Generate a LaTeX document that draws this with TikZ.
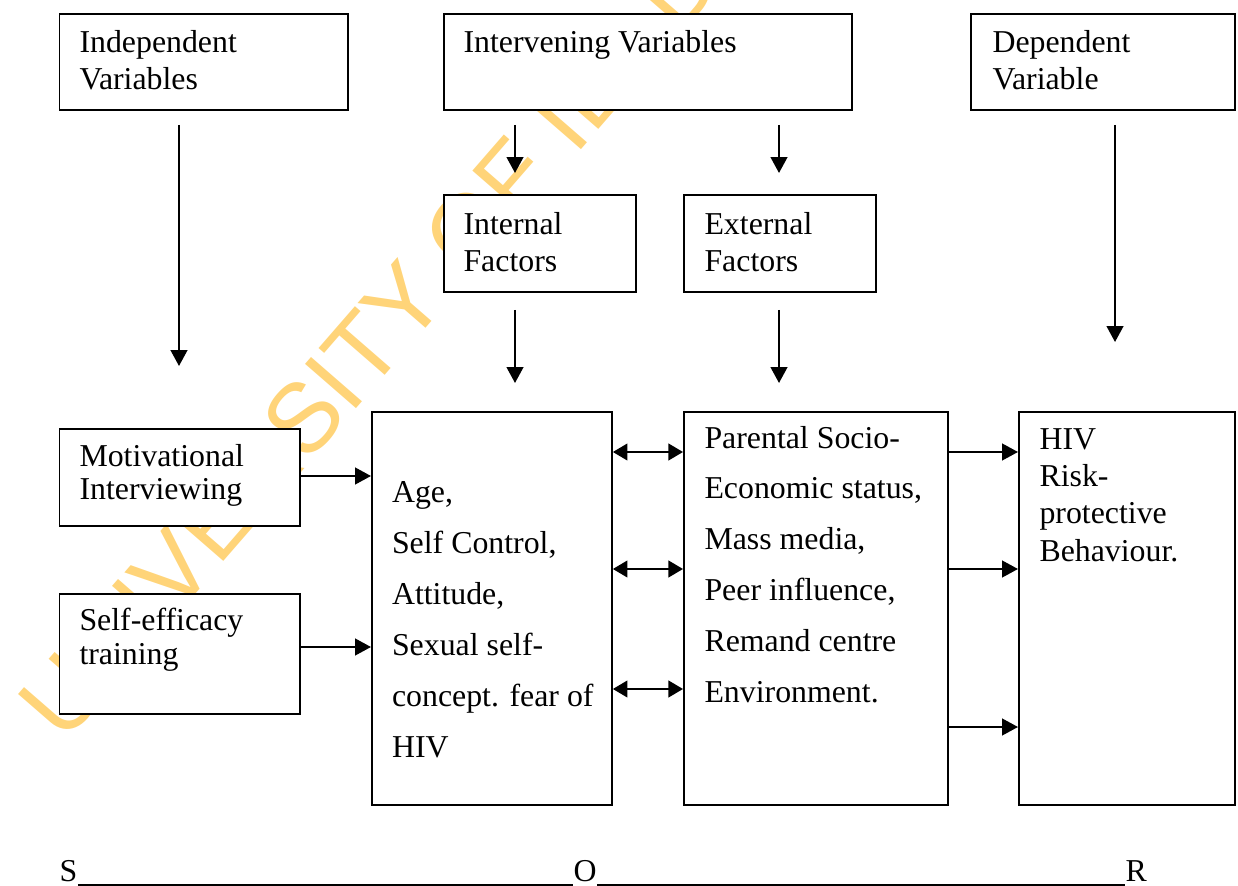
\documentclass[tikz,border=0pt]{standalone}
\usepackage{fontspec}
\setmainfont{Liberation Serif}
\newfontfamily\wmfont{Liberation Sans}
\usetikzlibrary{arrows.meta}

\definecolor{wmyellow}{RGB}{255,212,121}
\def\px{0.377pt}

\tikzset{
	box/.style 2 args={draw, fill=white, line width=0.7pt, anchor=north west, inner sep=0pt,
		minimum width=#1*\px, minimum height=#2*\px},
	txt/.style={anchor=base west, align=left, inner sep=0pt, font=\fontsize{12}{#1}\selectfont},
	txt/.default={13.95pt},
	arr/.style={-{Triangle[length=6pt,width=6.3pt]}, line width=0.75pt},
	biarr/.style={{Triangle[length=5.5pt,width=6.3pt]}-{Triangle[length=5.5pt,width=6.3pt]}, line width=0.75pt},
	wm/.style={anchor=base west, rotate=49, inner sep=0pt, text=wmyellow,
		font=\wmfont\fontsize{37}{40}\selectfont}
}

\begin{document}
\begin{tikzpicture}[x=\px, y=-\px]
			\useasboundingbox (0,0) rectangle (1238,886);

			% Watermark
			\begin{scope}
				\clip (0,0) rectangle (1238,886);
				\node[wm] (wmark) at (64,745) {UNIVERSITY OF IBADAN LIBRARY};
			\end{scope}

			% Make boxes
			\node[box={288.5}{96}] (indep) at (58.5,13) {};
			\node[box={408}{96}] (interv) at (443,13) {};
			\node[box={264}{96}] (dep) at (970,13) {};
			\node[box={192}{97}] (internal) at (443,194) {};
			\node[box={192}{97}] (external) at (683,194) {};
			\node[box={240.5}{97}] (motiv) at (58.5,428) {};
			\node[box={240.5}{120}] (selfeff) at (58.5,593) {};
			\node[box={240}{393}] (age) at (371,411) {};
			\node[box={264}{393}] (parental) at (683,411) {};
			\node[box={216}{393}] (hiv) at (1018,411) {};

			% Box texts (placed at the baseline of their last line)
			\node[txt] (indep-t) at (79,90) {Independent\\Variables};
			\node[txt] (interv-t) at (463,53) {Intervening Variables};
			\node[txt] (dep-t) at (992,90) {Dependent\\Variable};
			\node[txt] (internal-t) at (463,272) {Internal\\Factors};
			\node[txt] (external-t) at (704,272) {External\\Factors};
			\node[txt=12.6pt] (motiv-t) at (79,499.5) {Motivational\\Interviewing};
			\node[txt=12.8pt] (selfeff-t) at (79,664) {Self-efficacy\\training};
			\node[txt=19.2pt] (age-t) at (391.5,757.5) {Age,\\Self Control,\\Attitude,\\Sexual self-\\concept. fear of\\HIV};
			\node[txt=19.15pt] (parental-t) at (704,702) {Parental Socio-\\Economic status,\\Mass media,\\Peer influence,\\Remand centre\\Environment.};
			\node[txt] (hiv-t) at (1039,561) {HIV\\Risk-\\protective\\Behaviour.};

			% Make arrows
			\foreach \name/\x/\ya/\yb in {iv/179/125/366, tin/515/125/173, tex/779/125/173,
				dv/1115/125/342, inb/515/310/383, exb/779/310/383} {
				\coordinate (\name-a) at (\x,\ya);
				\coordinate (\name-b) at (\x,\yb);
				\draw[arr] (\name-a) -- (\name-b);
			}

			\draw[arr] (motiv.east |- 0,476) -- (age.west |- 0,476);
			\draw[arr] (selfeff.east |- 0,647) -- (age.west |- 0,647);

			\foreach \y in {452,569,689}
				\draw[biarr] (age.east |- 0,\y) -- (parental.west |- 0,\y);
			\foreach \y in {452,569,727}
				\draw[arr] (parental.east |- 0,\y) -- (hiv.west |- 0,\y);

			% S-O-R line
			\node[txt] (S) at (59,881) {S};
			\node[txt] (O) at (573,881) {O};
			\node[txt] (R) at (1125,881) {R};
			\draw[line width=0.6pt] ([yshift=-1.5pt]S.base east) -- ([yshift=-1.5pt]O.base west);
			\draw[line width=0.6pt] ([yshift=-1.5pt]O.base east) -- ([yshift=-1.5pt]R.base west);
\end{tikzpicture}
\end{document}
